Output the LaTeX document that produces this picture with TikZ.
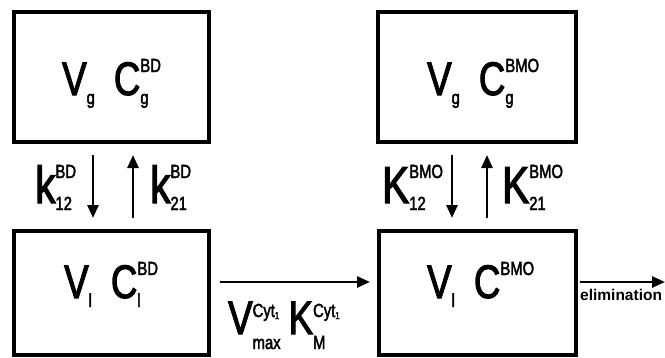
\documentclass[tikz,border=0pt]{standalone}
\usepackage{fontspec}
\setmainfont{Liberation Sans}
\newfontfamily\cnd[FakeStretch=0.78,FakeBold=2.2]{Liberation Sans}
\usetikzlibrary{arrows.meta}
\newcommand\BigT{\cnd\fontsize{47}{47}\selectfont}
\newcommand\KT{\cnd\fontsize{52}{52}\selectfont}
\newcommand\SmT{\cnd\fontsize{19}{19}\selectfont}
\newcommand\Lo[1]{\raisebox{-9pt}{\SmT #1}}
\newcommand\Hi[1]{\raisebox{23pt}{\SmT #1}}
% up, down, sup, sub
\newcommand\HL[4]{\setbox0\hbox{\raisebox{#1}{\SmT #3}}\setbox2\hbox{\raisebox{#2}{\SmT #4}}\ifdim\wd0>\wd2 \rlap{\box2}\box0 \else\rlap{\box0}\box2 \fi}
\newcommand\HiLo[2]{\HL{23pt}{-9pt}{#1}{#2}}
\newcommand\Cyt{Cyt\raisebox{-2pt}{\cnd\fontsize{10}{10}\selectfont 1}}
\begin{document}
\begin{tikzpicture}[x=1pt,y=-1pt,
  box/.style={draw, line width=3.2pt, inner sep=0pt, outer sep=0pt},
  arr/.style={line width=2.6pt, -{Triangle[length=13pt,width=11pt]}},
  txt/.style={inner sep=0pt, anchor=base west, font=\BigT},
  ktxt/.style={inner sep=0pt, anchor=base west, font=\KT}]
\useasboundingbox (0,0) rectangle (665,357);
% compartments
\node[box, minimum width=195pt, minimum height=130pt] (tl) at (111.5,77) {};
\node[box, minimum width=198pt, minimum height=130pt] (tr) at (477,77) {};
\node[box, minimum width=195pt, minimum height=124pt] (bl) at (111.5,293) {};
\node[box, minimum width=197pt, minimum height=124pt] (br) at (477.5,293) {};
% compartment texts
\node[txt] (tlt) at (62,95) {V\Lo{g}\hspace{19pt}C\HiLo{BD}{g}};
\node[txt] (trt) at (427,95) {V\Lo{g}\hspace{19pt}C\HiLo{BMO}{g}};
\node[txt] (blt) at (64,298) {V\Lo{l}\hspace{19pt}C\HiLo{BD}{l}};
\node[txt] (brt) at (427,298) {V\Lo{l}\hspace{19pt}C\Hi{BMO}};
% exchange arrows
\draw[arr, shorten <=13pt, shorten >=13pt] ([xshift=-18.5pt]tl.south) -- ([xshift=-18.5pt]tl.south |- bl.north);
\draw[arr, shorten <=13pt, shorten >=13pt] ([xshift=21.5pt]tl.south |- bl.north) -- ([xshift=21.5pt]tl.south);
\draw[arr, shorten <=13pt, shorten >=13pt] ([xshift=-25pt]tr.south) -- ([xshift=-25pt]tr.south |- br.north);
\draw[arr, shorten <=13pt, shorten >=13pt] ([xshift=10pt]tr.south |- br.north) -- ([xshift=10pt]tr.south);
\node[ktxt] (k12l) at (35,203) {k\HL{25pt}{-7pt}{BD}{12}};
\node[ktxt] (k21l) at (150,203) {k\HL{25pt}{-7pt}{BD}{21}};
\node[ktxt] (k12r) at (382,203) {K\HL{25pt}{-7pt}{BMO}{12}};
\node[ktxt] (k21r) at (502,203) {K\HL{25pt}{-7pt}{BMO}{21}};
% metabolism
\draw[arr, shorten <=11pt, shorten >=9pt] ([yshift=11pt]bl.east) -- ([yshift=11pt]bl.east -| br.west);
\node[txt] (mm) at (228,334) {V\HL{17pt}{-15pt}{\Cyt}{max}\hspace{8pt}K\HL{17pt}{-15pt}{\Cyt}{M}};
% elimination
\coordinate (out) at (665,282);
\draw[arr, shorten <=4pt] ([yshift=11pt]br.east) -- (out);
\node[inner sep=0pt, anchor=base west, font=\bfseries\fontsize{15.5}{15.5}\selectfont] (el) at (580,300) {elimination};
\end{tikzpicture}
\end{document}
